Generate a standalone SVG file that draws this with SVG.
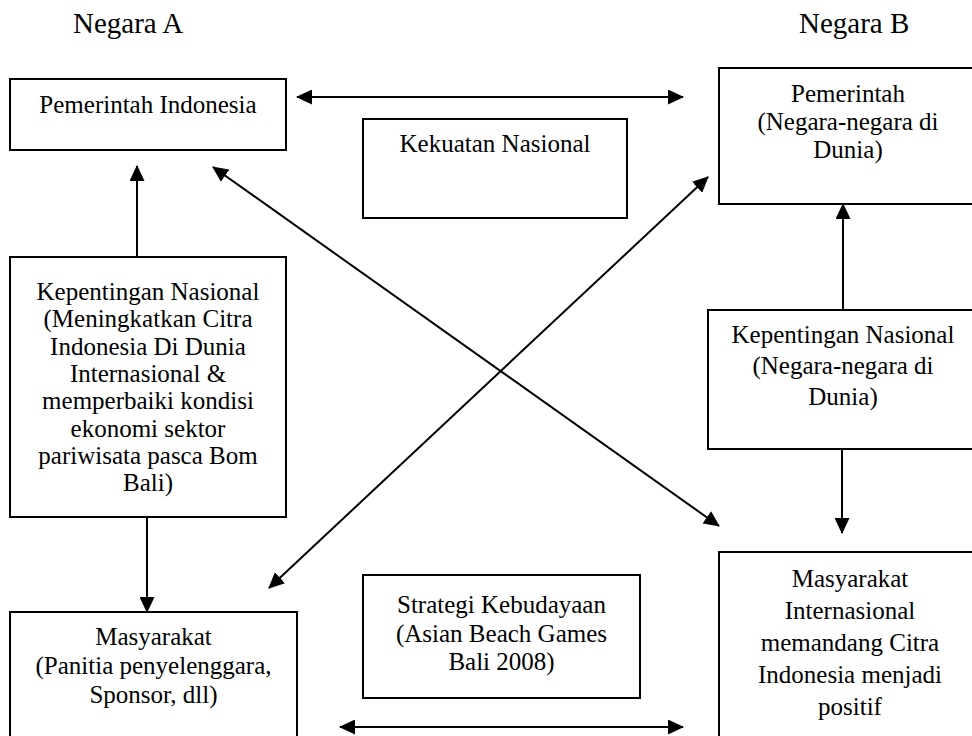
<svg xmlns="http://www.w3.org/2000/svg" width="972" height="736" viewBox="0 0 972 736">
<defs>
<style>
.box{fill:#fff;stroke:#000;stroke-width:2}
.t{font-family:"Liberation Serif","Times New Roman",serif;font-size:25px;fill:#000;text-anchor:middle}
.h{font-family:"Liberation Serif","Times New Roman",serif;font-size:29px;fill:#000}
.c{fill:none;stroke:#000;stroke-width:2}
</style>
<marker id="ah" markerUnits="userSpaceOnUse" markerWidth="16" markerHeight="15" refX="15" refY="7.5" orient="auto-start-reverse" viewBox="0 0 16 15">
<path d="M0,0 L16,7.5 L0,15 z" fill="#000"/>
</marker>
</defs>
<rect width="972" height="736" fill="#fff"/>
<text class="h" x="73" y="33">Negara A</text>
<text class="h" x="799" y="33">Negara B</text>

<g id="pemerintah-indonesia">
<rect class="box" x="10" y="79" width="276" height="71"/>
<text class="t" x="148" y="113">Pemerintah Indonesia</text>
</g>
<g id="kekuatan-nasional">
<rect class="box" x="363" y="119" width="264" height="99"/>
<text class="t" x="495" y="152">Kekuatan Nasional</text>
</g>
<g id="pemerintah-dunia">
<rect class="box" x="719" y="68" width="258" height="136"/>
<text class="t" x="848" y="102">Pemerintah</text>
<text class="t" x="848" y="130">(Negara-negara di</text>
<text class="t" x="848" y="158">Dunia)</text>
</g>
<g id="kepentingan-nasional-a">
<rect class="box" x="10" y="257" width="276" height="260"/>
<text class="t" x="148" y="300">Kepentingan Nasional</text>
<text class="t" x="148" y="327.3">(Meningkatkan Citra</text>
<text class="t" x="148" y="354.6">Indonesia Di Dunia</text>
<text class="t" x="148" y="381.9">Internasional &amp;</text>
<text class="t" x="148" y="409.2">memperbaiki kondisi</text>
<text class="t" x="148" y="436.5">ekonomi sektor</text>
<text class="t" x="148" y="463.8">pariwisata pasca Bom</text>
<text class="t" x="148" y="491.1">Bali)</text>
</g>
<g id="kepentingan-nasional-b">
<rect class="box" x="708" y="310" width="270" height="139"/>
<text class="t" x="843" y="343">Kepentingan Nasional</text>
<text class="t" x="843" y="374">(Negara-negara di</text>
<text class="t" x="843" y="405">Dunia)</text>
</g>
<g id="masyarakat">
<rect class="box" x="10" y="612" width="287" height="130"/>
<text class="t" x="153.5" y="645">Masyarakat</text>
<text class="t" x="153.5" y="674">(Panitia penyelenggara,</text>
<text class="t" x="153.5" y="703">Sponsor, dll)</text>
</g>
<g id="strategi-kebudayaan">
<rect class="box" x="363" y="575" width="277" height="123"/>
<text class="t" x="501.5" y="613">Strategi Kebudayaan</text>
<text class="t" x="501.5" y="642">(Asian Beach Games</text>
<text class="t" x="501.5" y="670">Bali 2008)</text>
</g>
<g id="masyarakat-internasional">
<rect class="box" x="719" y="552" width="262" height="190"/>
<text class="t" x="850" y="587">Masyarakat</text>
<text class="t" x="850" y="619">Internasional</text>
<text class="t" x="850" y="651">memandang Citra</text>
<text class="t" x="850" y="683">Indonesia menjadi</text>
<text class="t" x="850" y="715">positif</text>
</g>

<g id="connectors">
<line class="c" x1="297" y1="97" x2="683" y2="97" marker-start="url(#ah)" marker-end="url(#ah)"/>
<line class="c" x1="137" y1="257" x2="137" y2="166" marker-end="url(#ah)"/>
<line class="c" x1="147" y1="517" x2="147" y2="612" marker-end="url(#ah)"/>
<line class="c" x1="843" y1="310" x2="843" y2="204" marker-end="url(#ah)"/>
<line class="c" x1="842" y1="449" x2="842" y2="533" marker-end="url(#ah)"/>
<line class="c" x1="213" y1="167" x2="719" y2="526" marker-start="url(#ah)" marker-end="url(#ah)"/>
<line class="c" x1="269" y1="588" x2="708" y2="177" marker-start="url(#ah)" marker-end="url(#ah)"/>
<line class="c" x1="340" y1="727" x2="683" y2="727" marker-start="url(#ah)" marker-end="url(#ah)"/>
</g>
</svg>
